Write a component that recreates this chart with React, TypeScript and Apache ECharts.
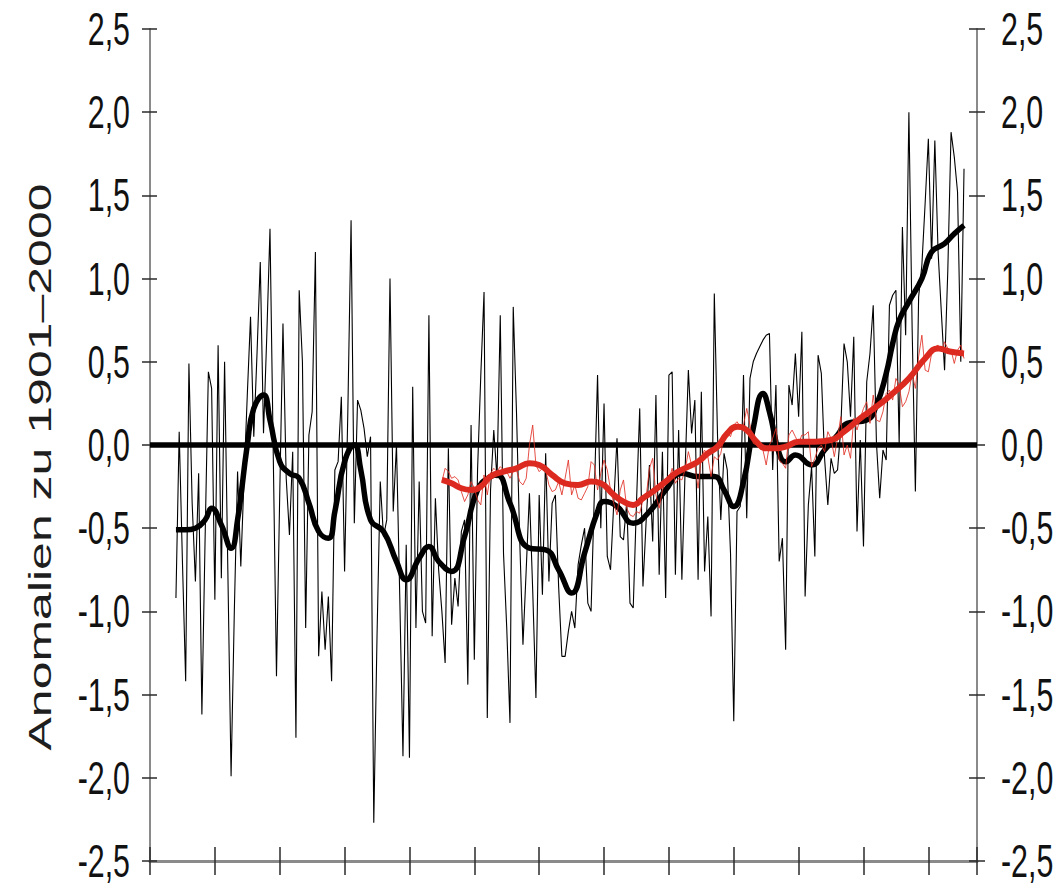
import React, { useEffect, useRef } from "react";
import * as echarts from "echarts";

// ---- Data -------------------------------------------------------------
// Regional annual temperature anomaly (thin black), first year 1768
const LOCAL_START = 1768;
const localAnnual: number[] = [
  -0.92, 0.08,
  -0.70, -1.42, 0.49, -0.35, -0.82, -0.17, -1.62, -0.55, 0.44, 0.34,
  -0.93, 0.60, -0.80, 0.50, -0.75, -1.99, -1.00, -0.16, -0.73, -0.20,
  0.30, 0.77, 0.05, 0.55, 1.10, 0.07, 0.65, 1.30, -0.05, -1.39,
  -0.30, 0.73, -0.20, -0.54, -0.04, -1.76, 0.93, 0.50, -1.10, 0.06,
  0.20, 1.16, -1.27, -0.88, -1.23, -0.91, -1.42, -0.15, -0.10, 0.29,
  -0.76, 0.20, 1.35, -0.47, 0.27, 0.21, 0.10, -0.07, 0.05, -2.27,
  -1.15, -0.22, -0.55, -0.45, 1.00, -0.40, 0.00, -0.90, -1.87, -0.60,
  -1.88, 0.35, -1.10, -0.22, -1.00, -1.07, 0.78, -1.15, -0.32, -0.75,
  -1.00, -1.31, -0.02, -1.08, -0.80, -0.97, -0.52, -0.45, -1.44, 0.12,
  -1.29, -0.15, 0.42, 0.92, -1.64, -0.27, 0.09, -0.20, 0.78, -0.65,
  -1.10, -1.67, 0.83, 0.20, -0.57, -1.20, -0.75, -0.29, -0.87, -1.52,
  -0.30, -0.90, -0.05, -0.82, -0.35, -0.30, -0.85, -1.27, -1.27, -1.12,
  -1.00, -1.10, -0.72, -0.60, -0.50, -0.95, -1.00, -0.30, 0.42, -0.50,
  0.25, -0.67, -0.75, -0.35, 0.04, -0.55, -0.57, -0.34, -0.95, -0.98,
  -0.35, 0.22, -0.85, -0.45, -0.12, -0.58, 0.30, -0.78, -0.04, -0.92,
  0.42, 0.44, -0.78, 0.09, -0.81, -0.15, 0.45, 0.07, 0.27, -0.81,
  0.32, -0.76, -0.43, -1.03, 0.91, 0.05, -0.45, -0.05, -0.15, -0.65,
  -1.66, -0.40, -0.37, 0.42, -0.44, 0.40, 0.50, 0.55, 0.59, 0.63,
  0.66, 0.67, -0.15, 0.36, -0.70, -0.56, -1.23, 0.36, 0.24, 0.55,
  0.17, 0.68, -0.91, -0.36, -0.13, -0.67, 0.54, 0.43, -0.08, -0.36,
  -0.08, -0.17, -0.15, 0.10, 0.61, 0.50, 0.17, 0.65, -0.52, 0.03,
  -0.61, 0.38, 0.55, 0.84, 0.01, -0.32, -0.03, -0.09, 0.84, 0.90,
  0.93, 0.01, 1.31, 0.66, 2.00, 0.70, -0.28, 0.89, 1.08, 1.45,
  1.84, 1.12, 1.83, 1.16, 0.80, 0.45, 1.05, 1.88, 1.73, 1.52,
  0.50, 1.66,
];

// Regional smoothed curve (thick black): [year, anomaly]
const localSmooth: [number, number][] = [
  [1768, -0.51], [1771, -0.51], [1774, -0.5], [1777, -0.45], [1779, -0.38],
  [1782, -0.48], [1785, -0.62], [1787, -0.45], [1790, 0.0], [1792, 0.22],
  [1795, 0.3], [1797, 0.15], [1800, -0.1], [1803, -0.17], [1806, -0.2],
  [1809, -0.35], [1812, -0.52], [1815, -0.56], [1817, -0.4], [1820, -0.1],
  [1823, 0.0], [1825, -0.15], [1828, -0.45], [1832, -0.52], [1836, -0.7],
  [1839, -0.81], [1843, -0.68], [1846, -0.61], [1849, -0.7], [1853, -0.76],
  [1857, -0.55], [1861, -0.27], [1865, -0.19], [1867, -0.18], [1871, -0.35],
  [1877, -0.62], [1882, -0.63], [1886, -0.75], [1890, -0.89], [1894, -0.65],
  [1898, -0.4], [1900, -0.34], [1904, -0.37], [1909, -0.47], [1914, -0.4],
  [1919, -0.27], [1924, -0.17], [1929, -0.19], [1934, -0.19], [1937, -0.27],
  [1940, -0.37], [1943, -0.22], [1946, 0.1], [1949, 0.31], [1951, 0.2],
  [1954, -0.05], [1956, -0.1], [1959, -0.06], [1964, -0.12], [1968, -0.03],
  [1972, 0.06], [1975, 0.13], [1981, 0.15], [1984, 0.24], [1987, 0.43],
  [1989, 0.61], [1991, 0.75], [1994, 0.86], [1998, 1.0], [2001, 1.16],
  [2005, 1.21], [2008, 1.27], [2011, 1.32],
];

// Global annual anomaly (thin red), first year 1850
const GLOBAL_START = 1850;
const globalAnnual: number[] = [
  -0.22, -0.14, -0.16, -0.20, -0.19, -0.21, -0.28, -0.34, -0.30, -0.22,
  -0.26, -0.33, -0.36, -0.18, -0.30, -0.17, -0.14, -0.16, -0.13, -0.15,
  -0.16, -0.20, -0.16, -0.15, -0.22, -0.24, -0.20, 0.00, 0.12, -0.12,
  -0.16, -0.14, -0.15, -0.24, -0.28, -0.27, -0.22, -0.30, -0.20, -0.09,
  -0.30, -0.24, -0.32, -0.33, -0.29, -0.25, -0.10, -0.12, -0.27, -0.17,
  -0.09, -0.15, -0.27, -0.35, -0.42, -0.27, -0.21, -0.38, -0.42, -0.43,
  -0.40, -0.41, -0.33, -0.31, -0.14, -0.08, -0.30, -0.38, -0.27, -0.22,
  -0.21, -0.14, -0.23, -0.20, -0.21, -0.15, -0.04, -0.12, -0.12, -0.26,
  -0.07, -0.03, -0.07, -0.19, -0.07, -0.09, -0.05, 0.05, 0.07, 0.05,
  0.12, 0.14, 0.11, 0.12, 0.22, 0.12, 0.01, 0.00, -0.02, -0.03,
  -0.12, 0.00, 0.04, 0.10, -0.09, -0.11, -0.14, 0.06, 0.09, 0.05,
  0.01, 0.06, 0.06, 0.08, -0.13, -0.08, -0.02, 0.00, -0.04, 0.08,
  0.04, -0.07, 0.04, 0.17, -0.06, 0.00, -0.08, 0.16, 0.09, 0.16,
  0.22, 0.26, 0.13, 0.30, 0.15, 0.14, 0.20, 0.31, 0.33, 0.27,
  0.40, 0.36, 0.23, 0.26, 0.32, 0.43, 0.34, 0.53, 0.66, 0.45,
  0.44, 0.55, 0.59, 0.60, 0.56, 0.62, 0.58, 0.57, 0.49, 0.57,
  0.60, 0.52,
];

// Global smoothed curve (thick red): [year, anomaly]
const globalSmooth: [number, number][] = [
  [1850, -0.21], [1853, -0.23], [1856, -0.26], [1859, -0.27], [1862, -0.25],
  [1865, -0.19], [1869, -0.16], [1873, -0.14], [1877, -0.11], [1880, -0.12],
  [1884, -0.18], [1888, -0.23], [1892, -0.24], [1896, -0.22], [1899, -0.23],
  [1903, -0.3], [1906, -0.34], [1909, -0.36], [1912, -0.32], [1915, -0.28],
  [1919, -0.22], [1922, -0.17], [1926, -0.13], [1929, -0.1], [1932, -0.05],
  [1935, -0.01], [1938, 0.07], [1941, 0.11], [1944, 0.09], [1947, 0.02],
  [1950, -0.02], [1953, -0.02], [1956, -0.01], [1960, 0.02], [1965, 0.02],
  [1970, 0.03], [1974, 0.08], [1979, 0.16], [1984, 0.23], [1989, 0.31],
  [1994, 0.4], [1999, 0.52], [2003, 0.58], [2007, 0.56], [2011, 0.55],
];

// Axes
const Y_MIN = -2.5;
const Y_MAX = 2.5;
const Y_STEP = 0.5;
const Y_TICKS = [-2.5, -2.0, -1.5, -1.0, -0.5, 0.0, 0.5, 1.0, 1.5, 2.0, 2.5];
const X_MIN = 1760;
const X_MAX = 2015;
const X_STEP = 20;
const Y_TITLE = "Anomalien zu 1901–2000";

const fmt = (v: number) => v.toFixed(1).replace(".", ",");

export default function App() {
  const ref = useRef<HTMLDivElement>(null);

  useEffect(() => {
    if (!ref.current) return;
    const chart = echarts.init(ref.current, undefined, { renderer: "svg" });
    const tickStyle = { color: "#2a2a2a", width: 1.5 };
    const yBase: any = {
      type: "value",
      min: Y_MIN,
      max: Y_MAX,
      interval: Y_STEP,
      splitLine: { show: false },
      axisLabel: { show: false },
    };
    const xBase: any = {
      type: "value",
      min: X_MIN,
      max: X_MAX,
      interval: X_STEP,
      position: "bottom",
      splitLine: { show: false },
      axisLabel: { show: false },
    };

    chart.setOption({
      animation: false,
      backgroundColor: "#ffffff",
      grid: {
        left: 150,
        right: 82,
        top: 29,
        bottom: 24,
        containLabel: false,
        outerBoundsMode: "none",
      },
      xAxis: [
        {
          ...xBase,
          axisLine: { show: true, onZero: false, lineStyle: { color: "#8a8a8a", width: 3 } },
          axisTick: { show: true, inside: false, length: 14, lineStyle: tickStyle },
        },
        {
          ...xBase,
          axisLine: { show: false, onZero: false },
          axisTick: { show: true, inside: true, length: 14, lineStyle: tickStyle },
        },
      ],
      yAxis: [
        {
          ...yBase,
          position: "left",
          axisLine: { show: true, onZero: false, lineStyle: { color: "#8a8a8a", width: 2 } },
          axisTick: { show: true, inside: false, length: 8, lineStyle: tickStyle },
        },
        {
          ...yBase,
          position: "left",
          axisLine: { show: false, onZero: false },
          axisTick: { show: true, inside: true, length: 7, lineStyle: tickStyle },
        },
        {
          ...yBase,
          position: "right",
          axisLine: { show: true, onZero: false, lineStyle: { color: "#8a8a8a", width: 2 } },
          axisTick: { show: true, inside: false, length: 8, lineStyle: tickStyle },
        },
        {
          ...yBase,
          position: "right",
          axisLine: { show: false, onZero: false },
          axisTick: { show: true, inside: true, length: 8, lineStyle: tickStyle },
        },
      ],
      series: [
        {
          name: "Region jährlich",
          type: "line",
          xAxisIndex: 0,
          yAxisIndex: 0,
          data: localAnnual.map((v, i) => [LOCAL_START + i, v]),
          showSymbol: false,
          lineStyle: { color: "#000", width: 1.1 },
          z: 2,
          silent: true,
          markLine: {
            silent: true,
            symbol: ["none", "none"],
            label: { show: false },
            lineStyle: { color: "#000", width: 5.5, type: "solid" },
            emphasis: { disabled: true },
            data: [{ yAxis: 0 }],
          },
        },
        {
          name: "Region geglättet",
          type: "line",
          xAxisIndex: 0,
          yAxisIndex: 0,
          data: localSmooth,
          smooth: 0.5,
          showSymbol: false,
          lineStyle: { color: "#000", width: 5.5 },
          z: 4,
          silent: true,
        },
        {
          name: "Global jährlich",
          type: "line",
          xAxisIndex: 0,
          yAxisIndex: 0,
          data: globalAnnual.map((v, i) => [GLOBAL_START + i, v]),
          showSymbol: false,
          lineStyle: { color: "rgba(224,48,38,0.85)", width: 1 },
          z: 5,
          silent: true,
        },
        {
          name: "Global geglättet",
          type: "line",
          xAxisIndex: 0,
          yAxisIndex: 0,
          data: globalSmooth,
          smooth: 0.5,
          showSymbol: false,
          lineStyle: { color: "#dc2a20", width: 6 },
          z: 6,
          silent: true,
        },
      ],
    });

    // Tick labels placed through the axis scale (condensed, like the original)
    const leftX = chart.convertToPixel({ xAxisIndex: 0 }, X_MIN) as number;
    const rightX = chart.convertToPixel({ xAxisIndex: 0 }, X_MAX) as number;
    const labelFont = "46px 'Liberation Sans', Arial, Helvetica, sans-serif";
    const labels: any[] = [];
    Y_TICKS.forEach((v) => {
      const y = chart.convertToPixel({ yAxisIndex: 0 }, v) as number;
      labels.push({
        type: "text",
        x: leftX - 20,
        y,
        scaleX: 0.66,
        silent: true,
        style: {
          text: fmt(v),
          font: labelFont,
          fill: "#111",
          align: "right",
          verticalAlign: "middle",
          textAlign: "right",
          textVerticalAlign: "middle",
        },
      });
      labels.push({
        type: "text",
        x: rightX + 24,
        y,
        scaleX: 0.66,
        silent: true,
        style: {
          text: fmt(v),
          font: labelFont,
          fill: "#111",
          align: "left",
          verticalAlign: "middle",
          textAlign: "left",
          textVerticalAlign: "middle",
        },
      });
    });

    chart.setOption({
      graphic: [
        {
          type: "text",
          x: 40,
          y: 467,
          rotation: Math.PI / 2,
          scaleY: 0.64,
          silent: true,
          style: {
            text: Y_TITLE,
            font: "50px 'Liberation Sans', Arial, sans-serif",
            fill: "#1e1e1e",
            textAlign: "center",
            textVerticalAlign: "middle",
            align: "center",
            verticalAlign: "middle",
          },
        },
        ...labels,
      ],
    });

    return () => {
      chart.dispose();
    };
  }, []);

  return (
    <div
      ref={ref}
      style={{ position: "absolute", left: 0, top: 0, width: 1059, height: 885 }}
    />
  );
}
